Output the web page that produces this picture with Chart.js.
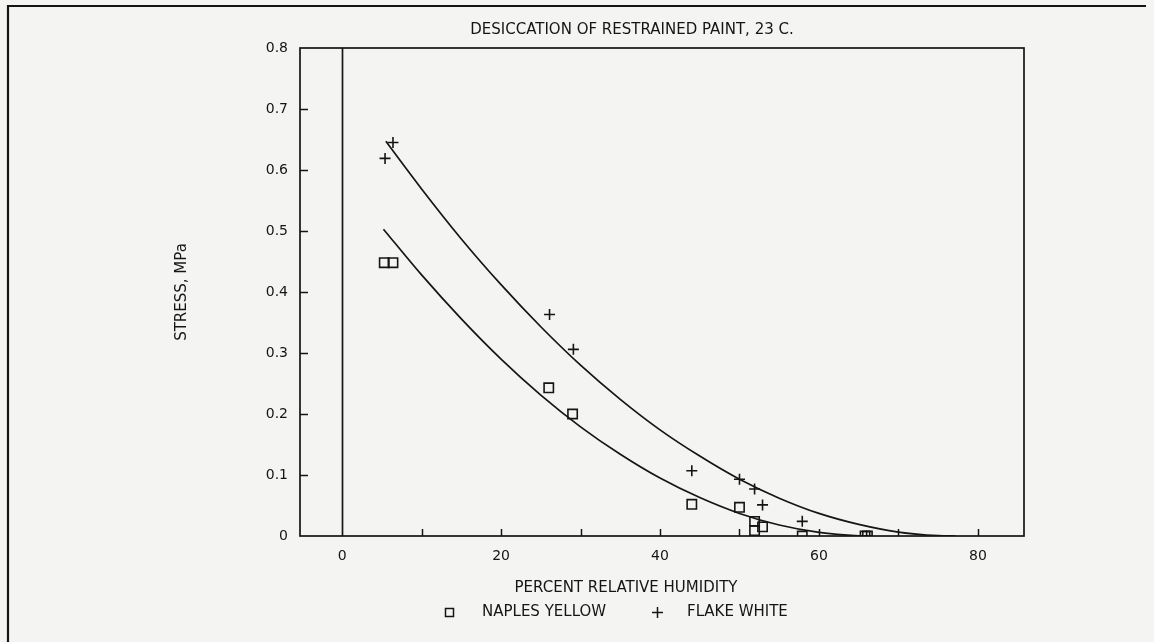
<!DOCTYPE html>
<html>
<head>
<meta charset="utf-8">
<script src="https://cdn.jsdelivr.net/npm/chart.js@4/dist/chart.umd.min.js"></script>
<style>
  html, body { margin: 0; padding: 0; background: #f4f4f2; }
  #wrap { width: 1154px; height: 642px; position: relative; }
  canvas { display: block; }
</style>
</head>
<body>
<div id="wrap"><canvas id="chart" width="1154" height="642"></canvas></div>
<script>
// ---- text ----
const titleText = 'DESICCATION OF RESTRAINED PAINT, 23 C.';
const xAxisTitle = 'PERCENT RELATIVE HUMIDITY';
const yAxisTitle = 'STRESS, MPa';
const seriesNames = ['NAPLES YELLOW', 'FLAKE WHITE'];

// ---- axis ticks ----
const xTickValues = [0, 10, 20, 30, 40, 50, 60, 70, 80];
const xTickLabels = ['0', '', '20', '', '40', '', '60', '', '80'];
const yTickValues = [0, 0.1, 0.2, 0.3, 0.4, 0.5, 0.6, 0.7, 0.8];
const yTickLabels = ['0', '0.1', '0.2', '0.3', '0.4', '0.5', '0.6', '0.7', '0.8'];

// ---- measured stress (MPa) vs relative humidity (%) ----
const naplesRH     = [5.3, 6.4, 26.0, 29.0, 44.0, 50.0, 51.9, 51.9, 52.9, 57.9, 65.8, 66.1];
const naplesStress = [0.448, 0.448, 0.243, 0.200, 0.052, 0.047, 0.024, 0.009, 0.015, 0.000, 0.000, 0.000];

const flakeRH      = [5.4, 6.4, 26.1, 29.1, 44.0, 50.0, 51.9, 52.9, 57.9, 66.0];
const flakeStress  = [0.619, 0.645, 0.363, 0.306, 0.107, 0.093, 0.077, 0.051, 0.024, 0.000];

// ---- fitted curves ----
const naplesFitRH     = [5.2, 10, 15, 20, 25, 30, 35, 40, 45, 50, 55, 60, 65, 66.7];
const naplesFitStress = [0.503, 0.428, 0.356, 0.290, 0.231, 0.179, 0.134, 0.095, 0.063, 0.037, 0.018, 0.006, 0.0004, 0];

const flakeFitRH      = [5.5, 10, 15, 20, 25, 30, 35, 40, 45, 50, 55, 60, 65, 70, 75, 77.2];
const flakeFitStress  = [0.647, 0.569, 0.487, 0.412, 0.343, 0.280, 0.224, 0.174, 0.131, 0.093, 0.062, 0.037, 0.019, 0.0065, 0.0006, 0];

const pairs = (xs, ys) => xs.map((x, i) => ({ x, y: ys[i] }));

const INK = '#151515';
const FONT = '"DejaVu Sans", sans-serif';

// Page frame, plot box, zero line, inward tick marks and free text
const decorations = {
  id: 'decorations',
  beforeDraw(chart) {
    const { ctx, width, height } = chart;
    ctx.save();
    ctx.fillStyle = '#f4f4f2';
    ctx.fillRect(0, 0, width, height);
    ctx.restore();
  },
  afterDatasetsDraw(chart) {
    const { ctx, chartArea: a, scales: { x, y } } = chart;
    ctx.save();
    ctx.strokeStyle = INK;
    ctx.fillStyle = INK;

    // page frame (top and left edges)
    ctx.lineWidth = 2.2;
    ctx.beginPath();
    ctx.moveTo(8, 642);
    ctx.lineTo(8, 6);
    ctx.lineTo(1146, 6);
    ctx.stroke();

    // plot box
    ctx.lineWidth = 1.7;
    ctx.strokeRect(a.left, a.top, a.right - a.left, a.bottom - a.top);

    // vertical line at RH = 0
    const x0 = Math.round(x.getPixelForValue(0)) + 0.5;
    ctx.beginPath();
    ctx.moveTo(x0, a.top);
    ctx.lineTo(x0, a.bottom);
    ctx.stroke();

    // inward tick marks
    ctx.lineWidth = 1.5;
    xTickValues.forEach(v => {
      if (v === 0) return;
      const px = Math.round(x.getPixelForValue(v)) + 0.5;
      ctx.beginPath();
      ctx.moveTo(px, a.bottom);
      ctx.lineTo(px, a.bottom - 7);
      ctx.stroke();
    });
    yTickValues.forEach(v => {
      if (v === 0 || v === 0.8) return;
      const py = Math.round(y.getPixelForValue(v)) + 0.5;
      ctx.beginPath();
      ctx.moveTo(a.left, py);
      ctx.lineTo(a.left + 8, py);
      ctx.stroke();
    });

    // title
    ctx.font = '15px ' + FONT;
    ctx.textBaseline = 'middle';
    ctx.textAlign = 'center';
    ctx.fillText(titleText, 632, 30);

    // x axis title
    ctx.fillText(xAxisTitle, 626, 588);

    // y axis title
    ctx.save();
    ctx.translate(182, (a.top + a.bottom) / 2);
    ctx.rotate(-Math.PI / 2);
    ctx.fillText(yAxisTitle, 0, 0);
    ctx.restore();

    // legend
    ctx.textAlign = 'left';
    ctx.lineWidth = 1.5;
    ctx.strokeRect(445.5, 608.5, 8, 8);
    ctx.fillText(seriesNames[0], 482, 612);
    ctx.beginPath();
    ctx.moveTo(652, 612.5); ctx.lineTo(663, 612.5);
    ctx.moveTo(657.5, 607); ctx.lineTo(657.5, 618);
    ctx.stroke();
    ctx.fillText(seriesNames[1], 687, 612);

    ctx.restore();
  }
};

new Chart(document.getElementById('chart'), {
  type: 'scatter',
  data: {
    datasets: [
      {
        label: seriesNames[0] + ' fit',
        data: pairs(naplesFitRH, naplesFitStress),
        showLine: true,
        borderColor: INK,
        borderWidth: 1.7,
        pointRadius: 0,
        cubicInterpolationMode: 'monotone',
        fill: false
      },
      {
        label: seriesNames[1] + ' fit',
        data: pairs(flakeFitRH, flakeFitStress),
        showLine: true,
        borderColor: INK,
        borderWidth: 1.7,
        pointRadius: 0,
        cubicInterpolationMode: 'monotone',
        fill: false
      },
      {
        label: seriesNames[0],
        data: pairs(naplesRH, naplesStress),
        pointStyle: 'rect',
        pointRadius: 6.6,
        borderColor: INK,
        borderWidth: 1.6,
        backgroundColor: 'rgba(0,0,0,0)'
      },
      {
        label: seriesNames[1],
        data: pairs(flakeRH, flakeStress),
        pointStyle: 'cross',
        pointRadius: 5.5,
        borderColor: INK,
        borderWidth: 1.6,
        backgroundColor: 'rgba(0,0,0,0)'
      }
    ]
  },
  options: {
    responsive: false,
    animation: false,
    devicePixelRatio: 1,
    layout: { padding: { left: 0, top: 48, right: 130, bottom: 0 } },
    plugins: {
      legend: { display: false },
      title: { display: false },
      tooltip: { enabled: false }
    },
    scales: {
      x: {
        type: 'linear',
        min: -5.3,
        max: 85.8,
        afterBuildTicks: s => { s.ticks = xTickValues.map(v => ({ value: v })); },
        afterFit: s => { s.height = 106; },
        grid: { display: false, drawTicks: false },
        border: { display: false },
        ticks: {
          autoSkip: false,
          maxRotation: 0,
          padding: 12,
          color: INK,
          font: { family: FONT, size: 14 },
          callback: (v, i) => xTickLabels[i]
        }
      },
      y: {
        type: 'linear',
        min: 0,
        max: 0.8,
        afterBuildTicks: s => { s.ticks = yTickValues.map(v => ({ value: v })); },
        afterFit: s => { s.width = 300; },
        grid: { display: false, drawTicks: false },
        border: { display: false },
        ticks: {
          autoSkip: false,
          padding: 12,
          color: INK,
          font: { family: FONT, size: 14 },
          callback: (v, i) => yTickLabels[i]
        }
      }
    }
  },
  plugins: [decorations]
});
</script>
</body>
</html>
